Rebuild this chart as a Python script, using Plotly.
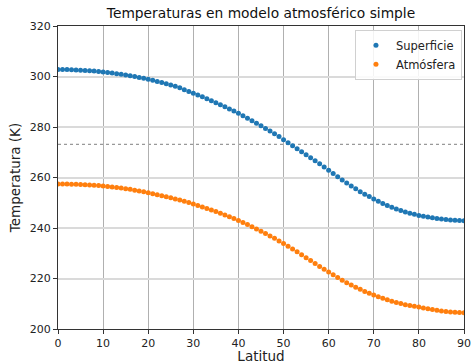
import plotly.graph_objects as go

latitud = list(range(0, 91))

superficie = [
    302.8, 302.8, 302.8, 302.7, 302.6, 302.5, 302.4, 302.3, 302.2, 302.0,
    301.8, 301.6, 301.4, 301.1, 300.9, 300.6, 300.3, 300.0, 299.6, 299.3,
    298.9, 298.5, 298.0, 297.6, 297.1, 296.6, 296.1, 295.5, 294.8, 294.1,
    293.4, 292.7, 292.0, 291.2, 290.4, 289.6, 288.8, 288.0, 287.1, 286.3,
    285.4, 284.45, 283.5, 282.5, 281.5, 280.5, 279.4, 278.4, 277.3, 276.2,
    275.0, 273.8, 272.6, 271.4, 270.2, 269.0, 267.8, 266.6, 265.4, 264.15,
    262.9, 261.6, 260.3, 259.05, 257.85, 256.65, 255.5, 254.4, 253.4, 252.45,
    251.5, 250.6, 249.75, 248.95, 248.2, 247.5, 246.9, 246.35, 245.85, 245.4,
    245.0, 244.65, 244.35, 244.05, 243.8, 243.55, 243.35, 243.2, 243.05, 242.95,
    242.9,
]

atmosfera = [
    257.4, 257.4, 257.4, 257.3, 257.3, 257.2, 257.1, 257.0, 256.9, 256.8,
    256.6, 256.45, 256.25, 256.05, 255.8, 255.55, 255.3, 255.0, 254.7, 254.35,
    254.0, 253.6, 253.2, 252.8, 252.4, 251.95, 251.5, 251.05, 250.55, 250.05,
    249.5, 248.95, 248.35, 247.75, 247.15, 246.5, 245.85, 245.15, 244.45, 243.75,
    243.0, 242.2, 241.35, 240.5, 239.6, 238.7, 237.8, 236.85, 235.9, 234.9,
    233.9, 232.8, 231.7, 230.55, 229.4, 228.25, 227.1, 225.95, 224.8, 223.7,
    222.6, 221.5, 220.4, 219.35, 218.35, 217.4, 216.5, 215.7, 214.9, 214.2,
    213.5, 212.8, 212.15, 211.55, 211.0, 210.5, 210.05, 209.65, 209.3, 209.0,
    208.75, 208.35, 208.0, 207.7, 207.4, 207.15, 206.95, 206.75, 206.6, 206.5,
    206.45,
]

congelacion = 273.15
xticks = [0, 10, 20, 30, 40, 50, 60, 70, 80, 90]
yticks = [200, 220, 240, 260, 280, 300, 320]

font = "DejaVu Sans, Liberation Sans, sans-serif"

fig = go.Figure()
fig.add_trace(go.Scatter(x=latitud, y=superficie, mode="markers", name="Superficie",
                         marker=dict(color="#1f77b4", size=5)))
fig.add_trace(go.Scatter(x=latitud, y=atmosfera, mode="markers", name="Atmósfera",
                         marker=dict(color="#ff7f0e", size=5)))

fig.add_shape(type="line", xref="paper", x0=0, x1=1, yref="y",
              y0=congelacion, y1=congelacion,
              line=dict(color="#999999", width=1.3, dash="dot"), layer="below")

fig.update_layout(
    width=472, height=364,
    margin=dict(l=58, r=8, t=26, b=35, autoexpand=False),
    paper_bgcolor="white", plot_bgcolor="white",
    font=dict(family=font, size=11, color="#222"),
    title=dict(text="Temperaturas en modelo atmosférico simple", x=0.553, xanchor="center",
               y=0.965, yanchor="middle", font=dict(size=13.8, color="#111")),
    showlegend=True,
    legend=dict(x=0.995, y=0.988, xanchor="right", yanchor="top",
                bgcolor="rgba(255,255,255,0.85)", bordercolor="#d0d0d0", borderwidth=1,
                font=dict(size=11.5, color="#222"), itemwidth=30, tracegroupgap=2),
    xaxis=dict(range=[0, 90], tickvals=xticks, ticks="outside", ticklen=4, tickcolor="#333",
               showgrid=True, gridcolor="#b0b0b0", gridwidth=1, automargin=False,
               showline=True, mirror=True, linecolor="#333", linewidth=1,
               zeroline=False, title=dict(text="Latitud", standoff=2, font=dict(size=13.5)),
               tickfont=dict(size=11)),
    yaxis=dict(range=[200, 320], tickvals=yticks, ticks="outside", ticklen=4, tickcolor="#333",
               showgrid=True, gridcolor="#dadada", gridwidth=1.6, automargin=False,
               showline=True, mirror=True, linecolor="#333", linewidth=1,
               zeroline=False, title=dict(text="Temperatura (K)", standoff=6, font=dict(size=13.5)),
               tickfont=dict(size=11)),
)

fig.write_html("out.html")
